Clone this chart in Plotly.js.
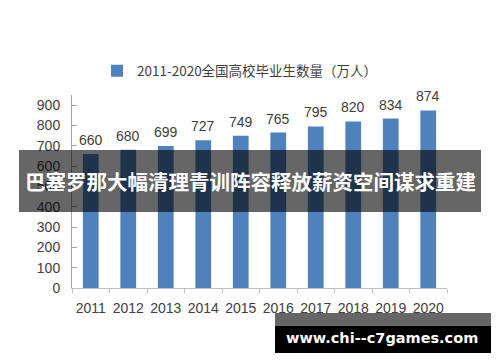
<!DOCTYPE html>
<html>
<head>
<meta charset="utf-8">
<script src="https://cdn.plot.ly/plotly-3.0.1.min.js"></script>
<style>html,body{margin:0;padding:0;background:#fff;}#chart{width:500px;height:362px;}</style>
</head>
<body>
<div id="chart"></div>
<script>
const years = ['2011','2012','2013','2014','2015','2016','2017','2018','2019','2020'];
const graduates = [660, 680, 699, 727, 749, 765, 795, 820, 834, 874];
const yTicks = [0, 100, 200, 300, 400, 500, 600, 700, 800, 900];
const seriesName = '2011-2020全国高校毕业生数量（万人）';
const bannerText = '巴塞罗那大幅清理青训阵容释放薪资空间谋求重建';
const siteText = 'www.chi--c7games.com';

// pixel -> paper helpers (plot area 72..447 x, 95..288 y)
const L = 72, R = 447, T = 95, B = 288;
const px = x => (x - L) / (R - L);
const py = y => (B - y) / (B - T);

const numFont = 'Liberation Sans, Arial, sans-serif';
const cjkFont = 'Noto Sans CJK SC, sans-serif';

const trace = {
  type: 'bar',
  x: years,
  y: graduates,
  name: seriesName,
  marker: {color: '#4f81bd'},
  hoverinfo: 'none'
};

const labelAnnots = years.map((yr, i) => ({
  x: i, y: graduates[i], xref: 'x', yref: 'y',
  text: String(graduates[i]), showarrow: false,
  yanchor: 'bottom', yshift: 4,
  font: {family: numFont, size: 14, color: '#404040'}
}));

const layout = {
  width: 500, height: 362,
  margin: {l: L, r: 500 - R, t: T, b: 362 - B, pad: 0},
  paper_bgcolor: '#ffffff',
  plot_bgcolor: '#ffffff',
  bargap: 0.58,
  showlegend: true,
  legend: {
    orientation: 'h', x: px(97), xanchor: 'left', y: py(71), yanchor: 'middle',
    font: {family: cjkFont, size: 13.5, color: '#404040'},
    bgcolor: 'rgba(0,0,0,0)', itemwidth: 30
  },
  xaxis: {
    type: 'category',
    categoryarray: years, categoryorder: 'array',
    range: [-0.5, years.length - 0.5], autorange: false,
    showgrid: false, zeroline: false,
    showline: true, linecolor: '#bfbfbf', linewidth: 1,
    ticks: 'outside', tickson: 'boundaries', ticklen: 4, tickcolor: '#bfbfbf',
    ticklabelstandoff: 7, tickangle: 0,
    tickfont: {family: numFont, size: 14, color: '#404040'},
    fixedrange: true
  },
  yaxis: {
    range: [0, 950], autorange: false,
    tickvals: yTicks,
    showgrid: false, zeroline: false,
    showline: true, linecolor: '#a6a6a6', linewidth: 1,
    ticks: 'inside', ticklen: 5, tickcolor: '#a6a6a6',
    ticklabelstandoff: 8,
    tickfont: {family: numFont, size: 14, color: '#404040'},
    fixedrange: true
  },
  shapes: [
    {type: 'rect', xref: 'paper', yref: 'paper', layer: 'above',
     x0: px(19), x1: px(481), y0: py(212), y1: py(150),
     fillcolor: 'rgba(0,0,0,0.6)', line: {width: 0}},
    {type: 'rect', xref: 'paper', yref: 'paper', layer: 'above',
     x0: px(275), x1: px(491), y0: py(326), y1: py(313),
     fillcolor: 'rgba(0,0,0,0.6)', line: {width: 0}},
    {type: 'rect', xref: 'paper', yref: 'paper', layer: 'above',
     x0: px(275), x1: px(491), y0: py(353), y1: py(326),
     fillcolor: '#000000', line: {width: 0}}
  ],
  annotations: labelAnnots.concat([
    {xref: 'paper', yref: 'paper', x: px(250), y: py(181), showarrow: false,
     xanchor: 'center', yanchor: 'middle', text: '<b>' + bannerText + '</b>',
     font: {family: cjkFont, size: 20.5, color: '#ffffff'}},
    {xref: 'paper', yref: 'paper', x: px(382), y: py(338), showarrow: false,
     xanchor: 'center', yanchor: 'middle', text: '<b>' + siteText + '</b>',
     font: {family: 'DejaVu Sans, sans-serif', size: 14.5, color: '#ffffff'}}
  ])
};

Plotly.newPlot('chart', [trace], layout, {staticPlot: true, displayModeBar: false});
</script>
</body>
</html>
